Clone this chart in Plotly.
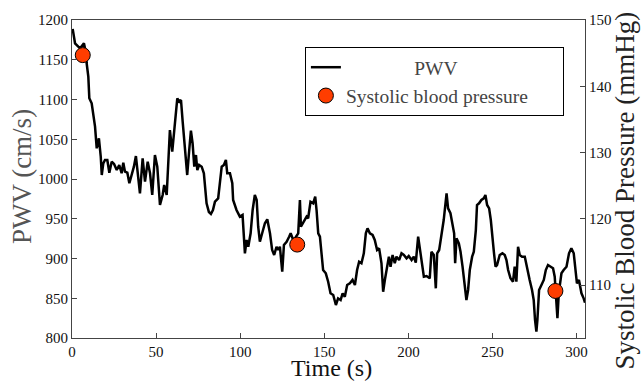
import plotly.graph_objects as go

# PWV time series
time_s = [0.4, 1.8, 4.8, 7.1, 8.3, 8.7, 9.7, 10.3, 11.7, 13.7, 14.7, 16.0, 17.1, 17.7, 18.6, 19.6,
          21.0, 22.2, 23.6, 25.0, 26.6, 28.1, 29.5, 30.5, 31.5, 32.9, 34.1, 35.5, 36.8, 38.0, 39.0,
          40.4, 42.0, 43.4, 45.0, 46.4, 47.7, 49.3, 50.7, 52.3, 53.9, 54.8, 56.3, 58.2, 59.6, 61.2,
          62.6, 63.8, 64.8, 65.8, 67.1, 68.5, 69.7, 70.7, 71.7, 72.7, 73.7, 74.5, 75.6, 77.1, 78.4,
          80.0, 81.4, 82.6, 83.8, 85.0, 86.9, 89.0, 90.3, 91.5, 92.3, 93.9, 95.3, 95.8, 97.8, 99.8,
          101.4, 102.8, 103.8, 104.8, 106.2, 107.4, 108.7, 109.8, 110.7, 111.7, 113.3, 114.7, 116.1,
          117.7, 119.0, 120.2, 121.6, 122.6, 123.6, 125.0, 126.0, 127.6, 129.1, 130.0, 131.5, 133.1,
          134.5, 135.5, 136.1, 137.4, 139.5, 140.4, 141.8, 143.4, 144.6, 145.4, 146.4, 147.4, 148.4,
          149.3, 150.9, 152.3, 153.7, 155.3, 156.9, 158.2, 159.7, 160.9, 162.2, 163.6, 165.2, 166.8,
          168.2, 169.5, 170.7, 172.1, 173.5, 174.7, 175.7, 177.1, 178.7, 180.0, 181.4, 182.6, 184.0,
          185.0, 186.0, 187.0, 188.4, 189.4, 190.6, 191.9, 192.9, 194.5, 195.9, 197.3, 198.9, 200.2,
          201.9, 203.2, 204.4, 205.8, 206.8, 207.8, 209.2, 210.8, 212.7, 213.7, 215.1, 216.3, 217.1,
          218.3, 219.7, 221.0, 222.7, 223.6, 225.0, 226.2, 227.2, 227.8, 228.6, 230.0, 231.0, 232.2,
          233.5, 234.5, 235.5, 236.5, 237.9, 238.9, 240.1, 240.8, 242.0, 243.4, 244.8, 245.8, 246.8,
          248.0, 249.0, 250.0, 250.8, 251.8, 252.7, 254.3, 255.9, 257.3, 258.3, 259.3, 260.7, 262.2,
          263.2, 264.2, 265.2, 266.2, 267.6, 269.2, 270.5, 272.1, 273.5, 274.5, 275.3, 276.1, 276.7,
          277.7, 279.1, 280.5, 281.7, 283.0, 284.6, 286.0, 287.0, 288.6, 289.4, 291.0, 292.3, 294.0,
          295.5, 296.9, 298.3, 299.3, 300.2, 301.4, 302.9, 304.2, 305.0]
pwv_cms = [1188.7, 1170.7, 1164.4, 1170.7, 1158.5, 1145.9, 1128.7, 1101.5, 1095.2, 1065.8, 1038.6,
           1051.2, 1028.0, 1005.0, 1019.7, 1023.9, 1023.9, 1007.9, 1021.8, 1018.9, 1011.3, 1017.6,
           1007.2, 1020.5, 1009.2, 1007.9, 994.6, 1005.0, 1015.5, 1028.9, 1011.3, 982.0, 1026.0,
           996.6, 1021.8, 1007.2, 979.9, 1030.2, 1015.5, 967.3, 979.9, 992.5, 979.9, 1061.6, 1034.3,
           1070.1, 1101.5, 1097.2, 1099.4, 1072.1, 1042.8, 1005.0, 1036.5, 1060.8, 1044.9, 1015.5,
           1030.2, 1011.3, 1017.6, 1015.5, 1007.2, 969.4, 958.5, 956.0, 961.0, 971.5, 975.7, 1015.5,
           1017.6, 1023.9, 1007.2, 1007.2, 994.6, 973.6, 961.0, 952.6, 954.7, 906.5, 923.3, 914.8,
           931.7, 961.0, 979.9, 973.6, 940.0, 921.1, 933.7, 944.3, 949.3, 931.7, 910.7, 904.4, 914.8,
           910.7, 914.8, 883.4, 917.0, 921.1, 927.4, 931.7, 923.3, 927.0, 931.7, 973.6, 940.0, 944.3,
           952.6, 950.6, 971.4, 969.4, 977.7, 961.0, 931.7, 927.4, 906.5, 885.5, 881.4, 870.8, 856.2,
           854.1, 841.5, 849.9, 847.8, 856.2, 851.9, 866.7, 868.8, 873.0, 866.7, 885.5, 896.0, 894.0,
           906.5, 931.7, 938.0, 931.7, 929.6, 923.3, 910.7, 912.8, 894.0, 858.2, 873.0, 885.5, 902.3,
           889.7, 904.4, 894.0, 902.3, 898.1, 906.5, 904.4, 900.2, 903.1, 898.1, 902.3, 894.7, 927.4,
           912.0, 902.3, 877.1, 878.0, 875.1, 908.5, 904.4, 862.5, 906.5, 910.7, 929.6, 948.4, 982.0,
           963.1, 956.9, 944.3, 931.7, 894.0, 925.4, 919.1, 908.5, 889.7, 864.5, 847.8, 860.4, 885.5,
           902.3, 908.5, 935.8, 967.3, 969.4, 973.6, 975.7, 979.9, 967.3, 963.1, 948.4, 923.3, 908.5,
           889.7, 891.8, 904.4, 906.5, 904.4, 898.1, 885.5, 875.1, 870.8, 889.7, 870.8, 914.8, 904.4,
           902.3, 902.3, 887.7, 873.0, 860.4, 847.8, 822.6, 807.9, 822.6, 860.4, 866.7, 873.0, 885.5,
           891.8, 889.7, 887.7, 877.1, 824.8, 856.2, 881.4, 885.5, 889.7, 906.5, 912.8, 906.5, 889.7,
           868.8, 873.0, 856.2, 849.9, 844.4]

# Systolic blood pressure samples
sbp_time_s = [6.4, 133.9, 287.4]
sbp_mmhg = [144.7, 116.1, 109.1]

x_ticks = [0, 50, 100, 150, 200, 250, 300]
y_left_ticks = [800, 850, 900, 950, 1000, 1050, 1100, 1150, 1200]
y_right_ticks = [110, 120, 130, 140, 150]

FONT = "Liberation Serif"
AXIS_COL = "#444444"
NB = "\u00a0"

fig = go.Figure()
fig.add_trace(go.Scatter(x=time_s, y=pwv_cms, mode="lines", name=NB * 14 + "PWV",
                         line=dict(color="black", width=2.5)))
fig.add_trace(go.Scatter(x=sbp_time_s, y=sbp_mmhg, mode="markers",
                         name="Systolic blood pressure" + NB * 6,
                         yaxis="y2",
                         marker=dict(size=15, color="#ff3d00", line=dict(color="black", width=1))))

axis_common = dict(showgrid=False, zeroline=False, showline=True, linecolor=AXIS_COL, linewidth=1,
                   ticks="inside", ticklen=5, tickcolor=AXIS_COL, tickwidth=1,
                   tickfont=dict(family=FONT, size=15, color="#111111"))

fig.update_layout(
    width=644, height=383,
    margin=dict(l=72, r=59, t=20, b=45),
    paper_bgcolor="white", plot_bgcolor="white",
    font=dict(family=FONT),
    xaxis=dict(range=[0, 305], tickvals=x_ticks, mirror=True, **axis_common),
    yaxis=dict(range=[800, 1200], tickvals=y_left_ticks, **axis_common),
    yaxis2=dict(range=[102, 150], tickvals=y_right_ticks, overlaying="y", side="right", **axis_common),
    showlegend=True,
    legend=dict(x=0.454, y=0.915, xanchor="left", yanchor="top",
                bgcolor="white", bordercolor="black", borderwidth=1,
                font=dict(family=FONT, size=19.5, color="#444444")),
    annotations=[
        dict(text="PWV (cm/s)", xref="paper", yref="paper", x=-0.0975, y=0.509,
             xanchor="center", yanchor="middle", textangle=-90, showarrow=False,
             font=dict(family=FONT, size=27, color="#555555")),
        dict(text="Time (s)", xref="paper", yref="paper", x=0.505, y=-0.1415,
             xanchor="center", yanchor="bottom", showarrow=False,
             font=dict(family=FONT, size=24, color="#111111")),
        dict(text="Systolic Blood Pressure (mmHg)", xref="paper", yref="paper", x=1.079, y=0.462,
             xanchor="center", yanchor="middle", textangle=-90, showarrow=False,
             font=dict(family=FONT, size=27, color="#222222")),
    ],
)

fig.write_html("out.html")
